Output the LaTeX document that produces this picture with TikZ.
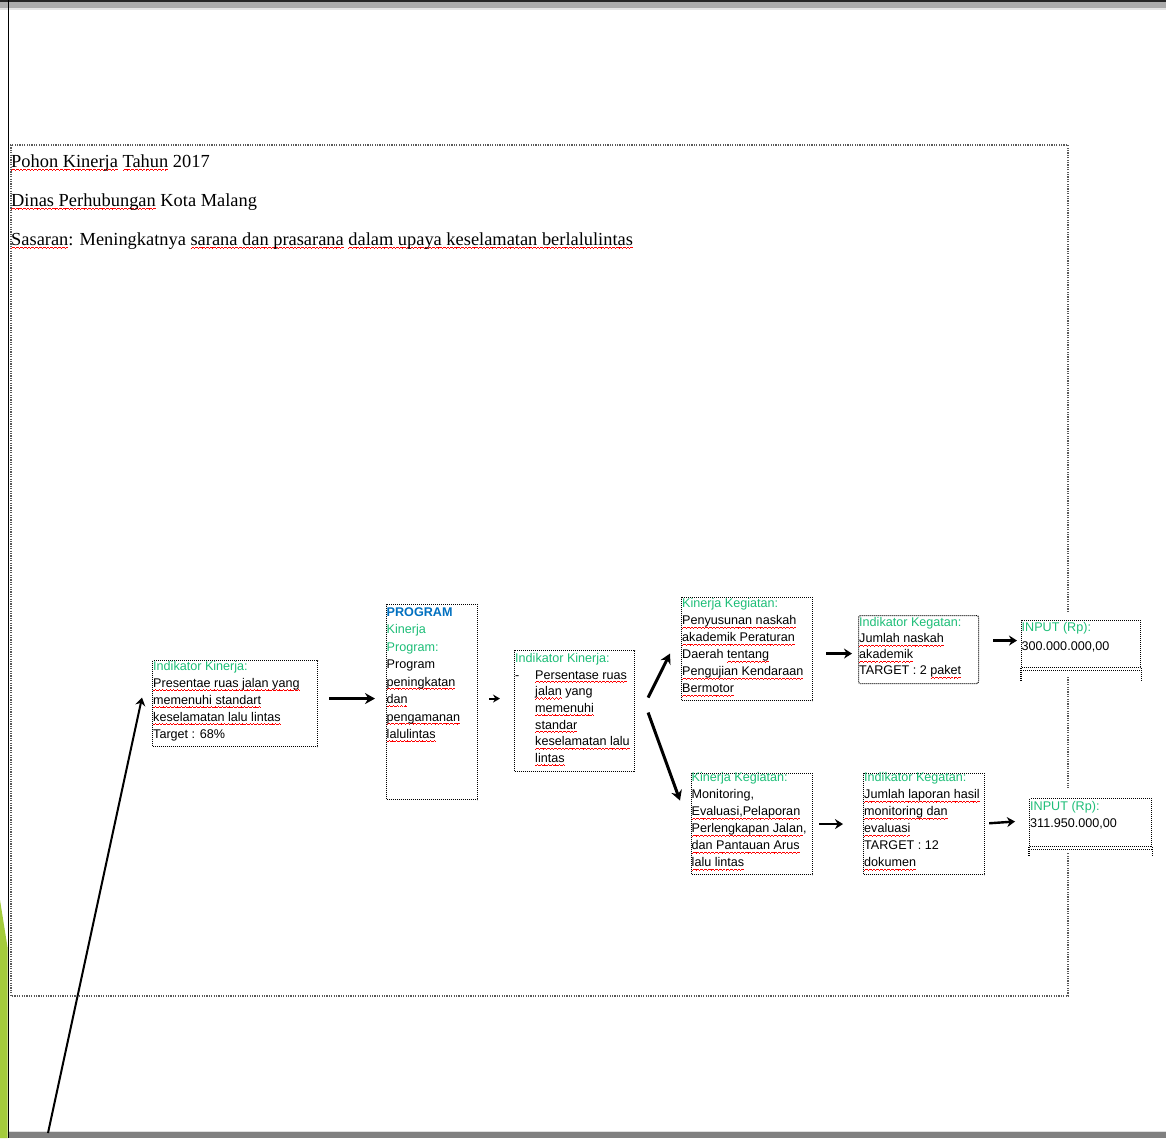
\documentclass[tikz,border=0pt]{standalone}
\usepackage{fontspec}
\setmainfont{Liberation Serif}
\newfontfamily\boxfont{Liberation Sans}
\usetikzlibrary{arrows.meta}
\definecolor{lblgreen}{RGB}{30,190,120}
\definecolor{progblue}{RGB}{0,112,192}
\definecolor{slidegreen}{RGB}{164,204,60}
\newcommand\wavebit{\hbox{\rule[-3.6pt]{0.9pt}{0.7pt}\rule[-3pt]{0.9pt}{0.7pt}\rule[-2.4pt]{0.9pt}{0.7pt}\rule[-3pt]{0.9pt}{0.7pt}}}
\newcommand\sq[1]{\setbox0=\hbox{#1}\leavevmode\rlap{\color{red}\xleaders\wavebit\hskip\wd0}\box0\relax}
\begin{document}
\begin{tikzpicture}[x=1pt,y=-1pt,
  bx/.style={draw=black, dash pattern=on 1pt off 1pt, line width=1.1pt, inner sep=0pt, anchor=north west},
  btxt/.style={anchor=north west, inner sep=0pt, align=left, font=\boxfont\fontsize{12.6}{#1}\selectfont},
  btxt/.default=17,
  hdr/.style={anchor=base west, inner sep=0pt, font=\fontsize{18.4}{22}\selectfont},
  bigdot/.style={draw=black!65, dash pattern=on 1.2pt off 1.2pt, line width=1.2pt},
  bigarrow/.style={-{Stealth[length=10pt,width=11pt]}, line width=3pt},
  midarrow/.style={-{Stealth[length=8pt,width=10pt]}, line width=2.4pt},
  smallarrow/.style={-{Stealth[length=7pt,width=8pt]}, line width=2pt}]
\useasboundingbox (0,0) rectangle (1166,1138);
% slide frame
\fill[white] (0,0) rectangle (1166,1138);
\fill[gray!65] (0,2) rectangle (1166,8);
\fill[black!85] (0,0) rectangle (1166,2);
\fill[gray!20] (0,8) rectangle (1166,9.5);
\fill[slidegreen] (0,900) -- (7.5,947) -- (7.5,1138) -- (0,1138) -- cycle;
\fill[black!50] (9,1132) rectangle (1166,1138);
\fill[gray!25] (9,1130.5) rectangle (1166,1132);
\fill[black] (7.5,0) rectangle (9.3,1138);
% outer dotted frame
\draw[bigdot] (1068,612) -- (1068,145) -- (11,145) -- (11,996) -- (1068,996) -- (1068,853);
\draw[bigdot] (1068,677) -- (1068,788);
% header
\node[hdr] (h1) at (11,167) {\sq{Pohon Kinerja} \sq{Tahun} 2017};
\node[hdr] (h2) at (11,206) {\sq{Dinas Perhubungan} Kota Malang};
\node[hdr] (h3) at (11,245) {\sq{Sasaran}: Meningkatnya \sq{sarana dan prasarana} \sq{dalam upaya keselamatan berlalulintas}};
% boxes
\node[bx, minimum width=165pt, minimum height=86pt] (b1) at (152,660) {};
\node[bx, minimum width=91pt, minimum height=195pt] (b2) at (386,604) {};
\node[bx, minimum width=120pt, minimum height=121pt] (b3) at (514,650) {};
\node[bx, minimum width=131pt, minimum height=103pt] (b4) at (681,597) {};
\node[bx, rounded corners=2pt, minimum width=120pt, minimum height=68pt] (b5) at (858,615) {};
\node[bx, fill=white, minimum width=119pt, minimum height=47pt] (b6) at (1021,620) {};
\node[bx, minimum width=121pt, minimum height=101pt] (b7) at (691,773) {};
\node[bx, minimum width=121pt, minimum height=101pt] (b8) at (863,773) {};
\node[bx, fill=white, minimum width=122pt, minimum height=48pt] (b9) at (1029,798) {};
% INPUT box bottoms and legs
\draw[bx] ([yshift=-2pt]b6.south west) -- ([yshift=-2pt]b6.south east);
\draw[bx] (b6.south west) -- ++(0,13);
\draw[bx] (b6.south east) -- ++(0,13);
\draw[bx] ([yshift=-2pt]b9.south west) -- ([yshift=-2pt]b9.south east);
\draw[bx] (b9.south west) -- ++(0,10);
\draw[bx] (b9.south east) -- ++(0,10);
% texts
\node[btxt] (t1) at (153,661) {{\color{lblgreen}Indikator Kinerja:}\\
  \sq{Presentae ruas jalan yang}\\ \sq{memenuhi standart}\\ \sq{keselamatan lalu lintas}\\ Target : 68\%};
\node[btxt=17.5] (t2) at (386.5,607) {{\color{progblue}\bfseries PROGRAM}\\
  {\color{lblgreen}Kinerja}\\ {\color{lblgreen}Program:}\\ Program\\ \sq{peningkatan}\\ \sq{dan}\\ \sq{pengamanan}\\ \sq{lalulintas}};
\node[btxt=16.7] (t3) at (515,653) {{\color{lblgreen}Indikator Kinerja:}\\
  \makebox[20pt][l]{-}\sq{Persentase ruas}\\ \hspace*{20pt}\sq{jalan} yang\\ \hspace*{20pt}\sq{memenuhi}\\
  \hspace*{20pt}\sq{standar}\\ \hspace*{20pt}\sq{keselamatan lalu}\\ \hspace*{20pt}\sq{lintas}};
\node[btxt] (t4) at (682,598.5) {{\color{lblgreen}Kinerja Kegiatan:}\\
  \sq{Penyusunan naskah}\\ \sq{akademik Peraturan}\\ Daerah \sq{tentang}\\ \sq{Pengujian Kendaraan}\\ \sq{Bermotor}};
\node[btxt=16] (t5) at (859,617.5) {{\color{lblgreen}Indikator Kegatan:}\\
  \sq{Jumlah naskah}\\ \sq{akademik}\\ TARGET : 2 \sq{paket}};
\node[btxt=19] (t6) at (1021.5,622.5) {{\color{lblgreen}INPUT (Rp):}\\ 300.000.000,00};
\node[btxt] (t7) at (691.5,772.5) {{\color{lblgreen}Kinerja Kegiatan:}\\
  Monitoring,\\ \sq{Evaluasi,Pelaporan}\\ \sq{Perlengkapan Jalan},\\ \sq{dan Pantauan Arus}\\ \sq{lalu lintas}};
\node[btxt] (t8) at (864,772.5) {{\color{lblgreen}Indikator Kegatan:}\\
  \sq{Jumlah laporan hasil}\\ \sq{monitoring dan}\\ \sq{evaluasi}\\ TARGET : 12\\ \sq{dokumen}};
\node[btxt] (t9) at (1030,801.5) {{\color{lblgreen}INPUT (Rp):}\\ 311.950.000,00};
% connectors
\coordinate (src) at (48,1133);
\draw[midarrow, line width=2pt] (src) -- ([xshift=-10pt,yshift=6pt]b1.west);
\draw[bigarrow, shorten <=11pt, shorten >=11pt] ([yshift=5pt]b1.east) -- ([yshift=3.5pt]b2.west);
\draw[smallarrow, shorten <=11pt, shorten >=14pt] ([yshift=3.5pt]b2.east) -- ([yshift=12.5pt]b3.west);
\draw[bigarrow] ([xshift=13pt,yshift=13.5pt]b3.east) -- ([xshift=-11pt,yshift=-4.5pt]b4.west);
\draw[bigarrow] ([xshift=13pt,yshift=-1.5pt]b3.east) -- ([xshift=-11pt,yshift=23.5pt]b7.west);
\draw[midarrow, shorten <=13pt, shorten >=6pt] ([yshift=-4.5pt]b4.east) -- ([yshift=-4pt]b5.west);
\draw[midarrow, shorten <=14pt, shorten >=4pt] ([yshift=9pt]b5.east) -- ([yshift=3.5pt]b6.west);
\draw[midarrow, shorten <=6pt, shorten >=20pt] (b7.east) -- (b8.west);
\draw[midarrow, shorten <=4pt, shorten >=14pt] ([yshift=0.5pt]b8.east) -- ([yshift=2pt]b9.west);
\end{tikzpicture}
\end{document}
